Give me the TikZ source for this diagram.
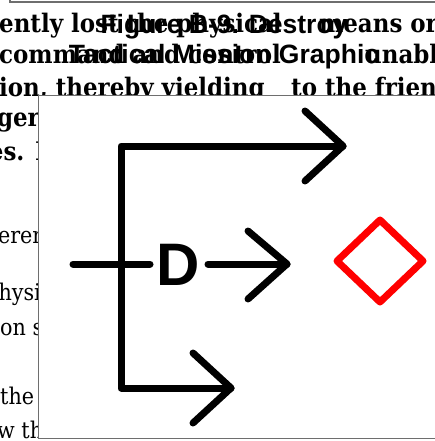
\documentclass[tikz,border=0pt]{standalone}
\usepackage{fontspec}
\newfontfamily\titlefont{Liberation Sans}
\newfontfamily\bgserif{DejaVu Serif Condensed}
\definecolor{boxgray}{RGB}{110,110,110}
\definecolor{symred}{RGB}{255,0,0}
\tikzset{
  bgbold/.style={inner sep=0pt, font=\fontsize{25.5}{25.5}\selectfont\bgserif\bfseries},
  bgreg/.style={inner sep=0pt, font=\fontsize{23}{23}\selectfont\bgserif},
  titletext/.style={inner sep=0pt, font=\fontsize{26.5}{26.5}\selectfont\titlefont\bfseries},
  symline/.style={line width=7pt, line cap=round, line join=round},
  frameline/.style={draw=boxgray, line width=1.6pt},
}
\begin{document}
\begin{tikzpicture}[x=1pt, y=-1pt]
\useasboundingbox (0,0) rectangle (435,441);
\clip (0,0) rectangle (435,441);
% background page text
\node[bgbold, anchor=base west] (l1a) at (-1,33) {ently lost the physical};
\node[bgbold, anchor=base east] (l1b) at (438,33) {means or};
\node[bgbold, anchor=base west] (l2a) at (-1,64) {command and control};
\node[bgbold, anchor=base west] (l2b) at (365,64) {unable};
\node[bgbold, anchor=base west] (l3a) at (-1,97) {ion, thereby yielding};
\node[bgbold, anchor=base west] (l3b) at (291,97) {to the friendly};
\node[bgbold, anchor=base east] (l4) at (40,126) {longer};
\node[bgbold, anchor=base east] (l5) at (46,160) {forces. I};
\node[bgreg, anchor=base east] (l6) at (46,243) {differen};
\node[bgreg, anchor=base east] (l7) at (41,300) {physi};
\node[bgreg, anchor=base west] (l8) at (0,335) {on such};
\node[bgreg, anchor=base west] (l9) at (0,404) {the};
\node[bgreg, anchor=base west] (l10) at (-3,438) {w the};
% frame of previous figure at top
\coordinate (pf1) at (10,-6);
\coordinate (pf2) at (10,2);
\coordinate (pf3) at (440,2);
\draw[frameline, line width=1.3pt] (pf1) -- (pf2) -- (pf3);
% title
\node[titletext, anchor=base] (t1) at (224,34) {Figure B-9. Destroy};
\node[titletext, anchor=base] (t2) at (224,64) {Tactical Mission Graphic};
% figure frame
\coordinate (fa) at (38.5,95.5);
\coordinate (fb) at (445,438.5);
\filldraw[frameline, fill=white] (fa) rectangle (fb);
% bracket
\coordinate (tt) at (343,146);
\coordinate (tl) at (121,146);
\coordinate (bl) at (121,388);
\coordinate (bt) at (231,388);
\draw[symline] (tt) -- (tl) -- (bl) -- (bt);
\draw[symline] (305,111) -- (tt) -- (305,181);
\draw[symline] (193,353) -- (bt) -- (193,423);
% middle line with D
\node[inner sep=0pt, anchor=base, font=\fontsize{60}{60}\selectfont\titlefont\bfseries] (d) at (178,285) {D};
\coordinate (ms) at (73,264);
\coordinate (me) at (150,264);
\coordinate (ns) at (208,264);
\coordinate (mt) at (287,264);
\draw[symline] (ms) -- (me);
\draw[symline] (ns) -- (mt);
\draw[symline] (248,231) -- (mt) -- (248,299);
% red diamond
\coordinate (dc) at (380,261);
\draw[symline, draw=symred] (337,261) -- (380,220) -- (423,261) -- (380,302) -- cycle;
\end{tikzpicture}
\end{document}
